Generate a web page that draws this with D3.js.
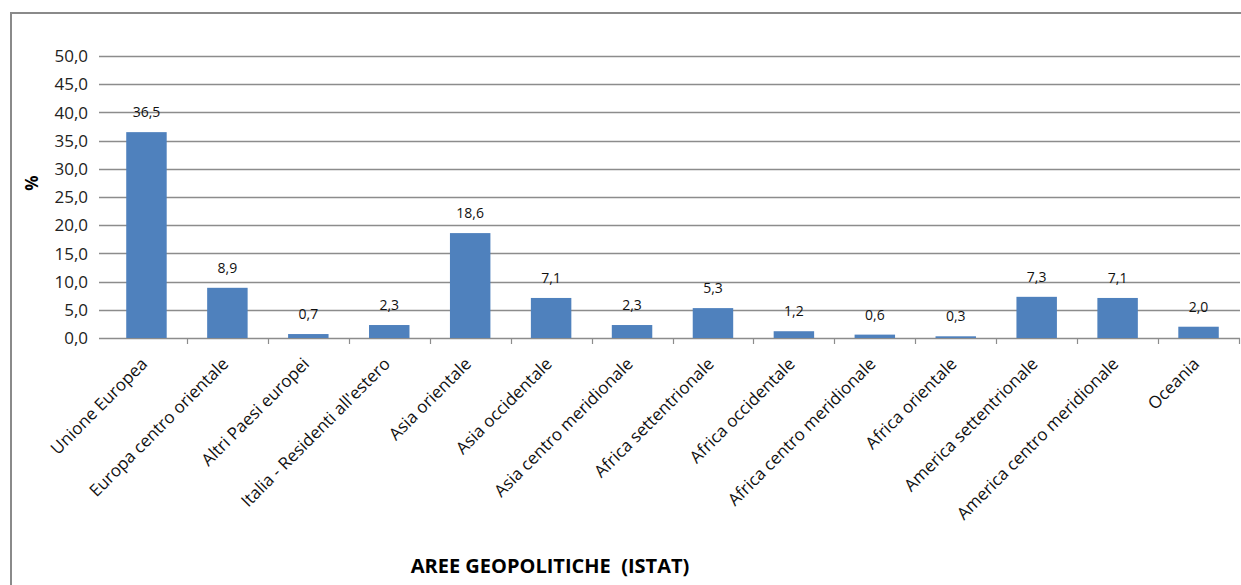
<!DOCTYPE html>
<html>
<head>
<meta charset="utf-8">
<script src="https://cdn.jsdelivr.net/npm/d3@7"></script>
<style>
  html, body { margin: 0; padding: 0; background: #fff; }
  svg { display: block; }
  text { font-family: "Open Sans", "Noto Sans", sans-serif; }
</style>
</head>
<body>
<svg id="chart" width="1241" height="585"></svg>
<script>
// Aree geopolitiche (classificazione ISTAT) e relative percentuali
const categories = [
  "Unione Europea",
  "Europa centro orientale",
  "Altri Paesi europei",
  "Italia - Residenti all'estero",
  "Asia orientale",
  "Asia occidentale",
  "Asia centro meridionale",
  "Africa settentrionale",
  "Africa occidentale",
  "Africa centro meridionale",
  "Africa orientale",
  "America settentrionale",
  "America centro meridionale",
  "Oceania"
];
const values = [36.5, 8.9, 0.7, 2.3, 18.6, 7.1, 2.3, 5.3, 1.2, 0.6, 0.3, 7.3, 7.1, 2.0];
const yTicks = [0, 5, 10, 15, 20, 25, 30, 35, 40, 45, 50];
const yTitle = "%";
const xTitle = "AREE GEOPOLITICHE  (ISTAT)";

const fmt = v => v.toFixed(1).replace(".", ",");

const svg = d3.select("#chart");

// outer chart frame (top and left edges visible)
svg.append("path")
  .attr("d", "M11,600 L11,13 L1260,13")
  .attr("fill", "none")
  .attr("stroke", "#8a8a8a")
  .attr("stroke-width", 2);

const plot = { left: 106, right: 1239, top: 56, bottom: 338 };

const x = d3.scaleBand()
  .domain(categories)
  .range([plot.left, plot.right])
  .paddingInner(0)
  .paddingOuter(0);

const y = d3.scaleLinear()
  .domain([0, 50])
  .range([plot.bottom, plot.top]);

// horizontal gridlines
svg.append("g")
  .selectAll("line")
  .data(yTicks)
  .join("line")
  .attr("x1", plot.left - 7)
  .attr("x2", plot.right + 1)
  .attr("y1", d => Math.round(y(d)) + 0.5)
  .attr("y2", d => Math.round(y(d)) + 0.5)
  .attr("stroke", "#8c8c8c")
  .attr("stroke-width", 1.6);

// y tick labels
svg.append("g")
  .selectAll("text")
  .data(yTicks)
  .join("text")
  .attr("x", 88)
  .attr("y", d => y(d))
  .attr("dy", "0.36em")
  .attr("text-anchor", "end")
  .attr("font-size", 17)
  .attr("fill", "#222")
  .text(fmt);

// y title
svg.append("text")
  .attr("transform", "translate(38,183) rotate(-90)")
  .attr("text-anchor", "middle")
  .attr("font-size", 17)
  .attr("font-weight", "bold")
  .attr("fill", "#000")
  .text(yTitle);

// bars
svg.append("g")
  .selectAll("rect")
  .data(values)
  .join("rect")
  .attr("x", (d, i) => x(categories[i]) + x.bandwidth() * 0.25)
  .attr("width", x.bandwidth() * 0.5)
  .attr("y", d => y(d))
  .attr("height", d => y(0) - y(d))
  .attr("fill", "#4f81bd");

// category axis tick marks at band boundaries
svg.append("g")
  .selectAll("line")
  .data(categories.slice(1).map(c => x(c)).concat([plot.right]))
  .join("line")
  .attr("x1", d => Math.round(d) + 0.5)
  .attr("x2", d => Math.round(d) + 0.5)
  .attr("y1", plot.bottom)
  .attr("y2", plot.bottom + 6)
  .attr("stroke", "#8c8c8c")
  .attr("stroke-width", 1.2);

// value labels
svg.append("g")
  .selectAll("text")
  .data(values)
  .join("text")
  .attr("x", (d, i) => x(categories[i]) + x.bandwidth() / 2)
  .attr("y", d => y(d) - 15)
  .attr("text-anchor", "middle")
  .attr("font-size", 14)
  .attr("fill", "#111")
  .text(fmt);

// rotated category labels
svg.append("g")
  .selectAll("text")
  .data(categories)
  .join("text")
  .attr("transform", c => `translate(${x(c) + x.bandwidth() / 2 + 2},${plot.bottom + 27}) rotate(-45)`)
  .attr("text-anchor", "end")
  .attr("font-size", 17)
  .attr("fill", "#111")
  .text(c => c);

// x title
svg.append("text")
  .attr("x", 550)
  .attr("y", 573)
  .attr("text-anchor", "middle")
  .attr("font-size", 20)
  .attr("font-weight", "bold")
  .attr("fill", "#000")
  .style("white-space", "pre")
  .text(xTitle);
</script>
</body>
</html>
